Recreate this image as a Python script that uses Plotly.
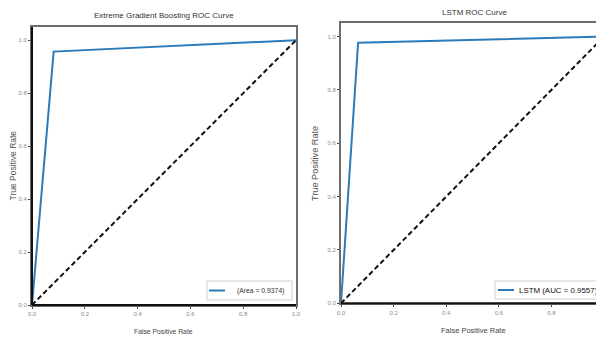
import plotly.graph_objects as go

xgb_fpr = [0.0, 0.082, 1.0]
xgb_tpr = [0.0, 0.957, 1.0]
lstm_fpr = [0.0, 0.065, 1.0]
lstm_tpr = [0.0, 0.977, 1.0]
diag = [0.0, 1.0]
ticks = [0.0, 0.2, 0.4, 0.6, 0.8, 1.0]
tick_text = ["0.0", "0.2", "0.4", "0.6", "0.8", "1.0"]
xgb_label = "(Area = 0.9374)"
lstm_label = "LSTM (AUC = 0.9557)"

BLUE = "#2b7bba"
FONT = "Liberation Sans, Arial, sans-serif"

# page body has an 8px margin: work in reference pixels and shift
OFF = 8
W, H = 596, 332
def fx(p): return (p - OFF) / W
def fy(p): return (H - (p - OFF)) / H

DASH = "5px,3px"
fig = go.Figure()
fig.add_trace(go.Scatter(x=xgb_fpr, y=xgb_tpr, mode="lines", showlegend=False,
                         line=dict(color=BLUE, width=2), xaxis="x", yaxis="y"))
fig.add_trace(go.Scatter(x=diag, y=diag, mode="lines", showlegend=False,
                         line=dict(color="#111111", width=2, dash=DASH), xaxis="x", yaxis="y"))
fig.add_trace(go.Scatter(x=lstm_fpr, y=lstm_tpr, mode="lines", showlegend=False,
                         line=dict(color=BLUE, width=2), xaxis="x2", yaxis="y2"))
fig.add_trace(go.Scatter(x=diag, y=diag, mode="lines", showlegend=False,
                         line=dict(color="#111111", width=2, dash=DASH), xaxis="x2", yaxis="y2"))

ax_common = dict(showgrid=False, zeroline=False, showline=True, mirror=True, automargin=False,
                 linecolor="#6e6e6e", linewidth=2, ticks="outside", ticklen=2,
                 tickcolor="#444444", tickvals=ticks, ticktext=tick_text,
                 tickfont=dict(size=6, color="#8a8a8a", family=FONT))

fig.update_layout(
    width=W, height=H, margin=dict(l=0, r=0, t=0, b=0, autoexpand=False),
    plot_bgcolor="white", paper_bgcolor="white", showlegend=False,
    xaxis=dict(ax_common, domain=[fx(32), fx(296)], range=[0, 1.0], anchor="y"),
    yaxis=dict(ax_common, domain=[fy(305), fy(27)], range=[0, 1.05], anchor="x"),
    xaxis2=dict(ax_common, domain=[fx(341), 1.0], range=[0, 1.0], anchor="y2"),
    yaxis2=dict(ax_common, domain=[fy(303.3), fy(22.7)], range=[0, 1.052], anchor="x2"),
)

def text(t, x, y, size, color, angle=0):
    fig.add_annotation(text=t, x=fx(x), y=fy(y), xref="paper", yref="paper", showarrow=False,
                       xanchor="center", yanchor="middle", textangle=angle,
                       font=dict(size=size, color=color, family=FONT))

# titles
text("Extreme Gradient Boosting ROC Curve", 164, 16, 8, "#333333")
text("LSTM ROC Curve", 474, 12.5, 8, "#333333")
# axis titles
text("False Positive Rate", 163, 331, 6.8, "#444444")
text("False Positive Rate", 473, 330, 7.5, "#444444")
text("True Positive Rate", 12.5, 166, 8.5, "#555555", -90)
text("True Positive Rate", 315, 164, 9.2, "#555555", -90)

# darker spines
fig.add_shape(type="line", xref="x domain", yref="y domain", x0=0, x1=0, y0=0, y1=1,
              line=dict(color="#111111", width=2))
fig.add_shape(type="line", xref="x domain", yref="y domain", x0=0, x1=1, y0=0, y1=0,
              line=dict(color="#111111", width=2))
fig.add_shape(type="line", xref="x2 domain", yref="y2 domain", x0=0, x1=1, y0=0, y1=0,
              line=dict(color="#111111", width=2))

# legend boxes
def legend_box(x0, x1, y0, y1, lx0, lx1, tx, label, size, color):
    fig.add_shape(type="rect", xref="paper", yref="paper",
                  x0=fx(x0), x1=fx(x1), y0=fy(y1), y1=fy(y0),
                  line=dict(color="#cfcfcf", width=1), fillcolor="white", layer="above")
    ym = fy((y0 + y1) / 2)
    fig.add_shape(type="line", xref="paper", yref="paper",
                  x0=fx(lx0), x1=fx(lx1), y0=ym, y1=ym,
                  line=dict(color=BLUE, width=2), layer="above")
    fig.add_annotation(text=label, x=fx(tx), y=ym, xref="paper", yref="paper",
                       xanchor="left", yanchor="middle", showarrow=False,
                       font=dict(size=size, color=color, family=FONT))

legend_box(207, 292, 281, 300, 209, 225, 235, xgb_label, 6.8, "#333333")
legend_box(495, 605, 281, 299, 498, 514, 517, lstm_label, 7.9, "#111111")

fig.write_html("out.html")
